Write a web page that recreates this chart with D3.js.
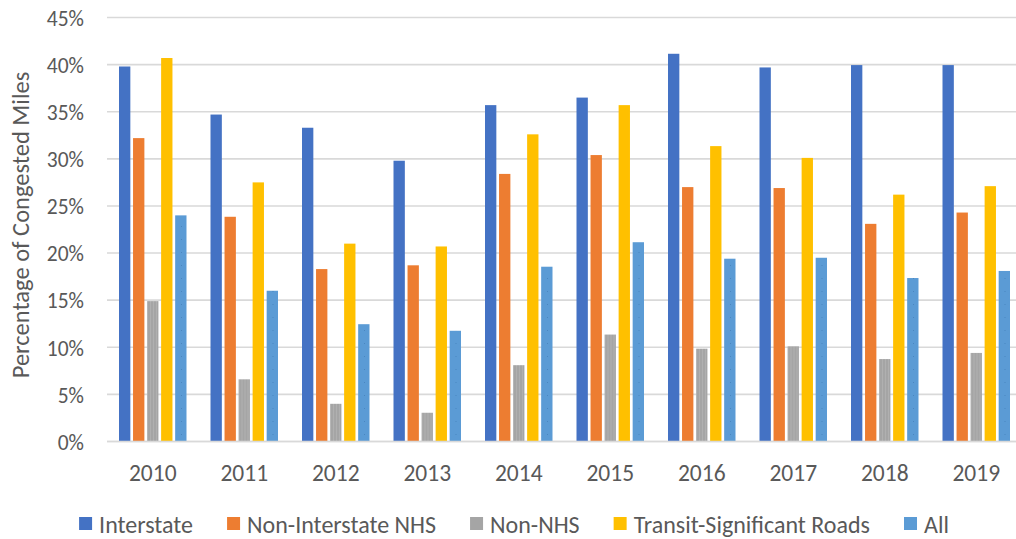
<!DOCTYPE html>
<html>
<head>
<meta charset="utf-8">
<script src="https://cdn.jsdelivr.net/npm/d3@7"></script>
<style>
  html, body { margin: 0; padding: 0; background: #fff; }
  svg { display: block; }
  text { font-family: Carlito, Calibri, Lato, "Open Sans", sans-serif; fill: #595959; }
</style>
</head>
<body>
<div id="chart"></div>
<script>
'use strict';

(function() {

  const years = ["2010", "2011", "2012", "2013", "2014", "2015", "2016", "2017", "2018", "2019"];
  const seriesNames = ["Interstate", "Non-Interstate NHS", "Non-NHS", "Transit-Significant Roads", "All"];

  // percent of congested miles
  const interstate  = [39.8, 34.7, 33.3, 29.8, 35.7, 36.5, 41.15, 39.7, 39.95, 39.95];
  const nonInterNHS = [32.2, 23.85, 18.3, 18.7, 28.4, 30.4, 27.0, 26.9, 23.1, 24.3];
  const nonNHS      = [14.9, 6.6, 4.0, 3.05, 8.1, 11.35, 9.85, 10.1, 8.75, 9.4];
  const transit     = [40.7, 27.5, 21.0, 20.7, 32.6, 35.7, 31.35, 30.1, 26.2, 27.1];
  const allRoads    = [24.0, 16.0, 12.45, 11.75, 18.55, 21.15, 19.4, 19.5, 17.35, 18.1];

  const yTicks = [0, 5, 10, 15, 20, 25, 30, 35, 40, 45];

  const seriesValues = [interstate, nonInterNHS, nonNHS, transit, allRoads];
  const colors = ["#4472C4", "#ED7D31", "#A5A5A5", "#FFC000", "#5B9BD5"];
  const fills = ["#4472C4", "#ED7D31", "url(#pat-gray)", "#FFC000", "url(#pat-blue)"];

  const m = {
    width: 1016,
    height: 539,
    left: 107,
    right: 1022,
    top: 17.5,
    bottom: 441.5
  };

  let svg = d3.select('#chart')
    .append('svg')
    .attr('width', m.width)
    .attr('height', m.height);

  // subtle textures excel put on two of the series
  let defs = svg.append('defs');
  let pg = defs.append('pattern')
    .attr('id', 'pat-gray')
    .attr('patternUnits', 'userSpaceOnUse')
    .attr('width', 3).attr('height', 3);
  pg.append('rect').attr('width', 3).attr('height', 3).attr('fill', '#A5A5A5');
  pg.append('rect').attr('x', 1).attr('width', 1).attr('height', 3).attr('fill', '#B0B0B0');

  let pb = defs.append('pattern')
    .attr('id', 'pat-blue')
    .attr('patternUnits', 'userSpaceOnUse')
    .attr('width', 8).attr('height', 13);
  pb.append('rect').attr('width', 8).attr('height', 13).attr('fill', '#5B9BD5');
  pb.append('rect').attr('x', 2).attr('y', 5).attr('width', 1).attr('height', 1).attr('fill', '#4A86C0');

  let x = d3.scaleBand()
    .domain(years)
    .range([m.left, m.right])
    .padding(0);

  let groupW = 70.2;
  let xs = d3.scaleBand()
    .domain(d3.range(seriesNames.length))
    .range([(x.bandwidth() - groupW) / 2, (x.bandwidth() + groupW) / 2])
    .padding(0);

  let y = d3.scaleLinear()
    .domain([0, 45])
    .range([m.bottom, m.top]);

  // gridlines
  svg.append('g')
    .selectAll('line')
    .data(yTicks)
    .enter()
    .append('line')
    .attr('x1', m.left)
    .attr('x2', m.width)
    .attr('y1', d => y(d))
    .attr('y2', d => y(d))
    .attr('stroke', '#D9D9D9')
    .attr('stroke-width', 1.6);

  // y tick labels
  let yAxis = d3.axisLeft(y)
    .tickValues(yTicks)
    .tickSize(0)
    .tickPadding(0)
    .tickFormat(d => d + '%');
  let gy = svg.append('g')
    .attr('transform', 'translate(84, 0)')
    .call(yAxis);
  gy.select('.domain').remove();
  gy.selectAll('text')
    .attr('fill', '#595959')
    .style('font-size', '21.5px')
    .attr('dy', '0.36em');

  // bars
  let gap = 2.7;
  let groups = svg.append('g')
    .selectAll('g')
    .data(years)
    .enter()
    .append('g')
    .attr('transform', d => 'translate(' + x(d) + ',0)');

  groups.selectAll('rect')
    .data((yr, i) => seriesValues.map((vals, s) => ({ s: s, v: vals[i] })))
    .enter()
    .append('rect')
    .attr('x', d => xs(d.s) + gap / 2)
    .attr('width', xs.bandwidth() - gap)
    .attr('y', d => y(d.v))
    .attr('height', d => y(0) - y(d.v))
    .attr('fill', d => fills[d.s]);

  // x axis line + year labels
  svg.append('line')
    .attr('x1', m.left)
    .attr('x2', m.width)
    .attr('y1', y(0))
    .attr('y2', y(0))
    .attr('stroke', '#D9D9D9')
    .attr('stroke-width', 1.6);

  let xAxis = d3.axisBottom(x).tickSize(0).tickPadding(0);
  let gx = svg.append('g')
    .attr('transform', 'translate(0, ' + y(0) + ')')
    .call(xAxis);
  gx.select('.domain').remove();
  gx.selectAll('text')
    .attr('fill', '#595959')
    .attr('dy', null)
    .attr('y', 39.5)
    .style('font-size', '23.5px');

  // y axis title
  svg.append('text')
    .attr('transform', 'translate(29, 225) rotate(-90)')
    .attr('text-anchor', 'middle')
    .style('font-size', '24.5px')
    .text('Percentage of Congested Miles');

  // legend
  let legend = svg.append('g');
  let items = legend.selectAll('g')
    .data(seriesNames)
    .enter()
    .append('g');
  items.append('rect')
    .attr('width', 13)
    .attr('height', 13)
    .attr('y', -7)
    .attr('fill', (d, i) => colors[i]);
  items.append('text')
    .attr('x', 20)
    .attr('dy', '0.36em')
    .style('font-size', '24px')
    .text(d => d);

  let cur = 0;
  items.each(function() {
    let w = d3.select(this).select('text').node().getComputedTextLength();
    d3.select(this).attr('transform', 'translate(' + cur + ',0)');
    cur += 20 + w + 34;
  });
  let totalW = cur - 34;
  legend.attr('transform', 'translate(' + (514 - totalW / 2) + ', 524)');

})();
</script>
</body>
</html>
